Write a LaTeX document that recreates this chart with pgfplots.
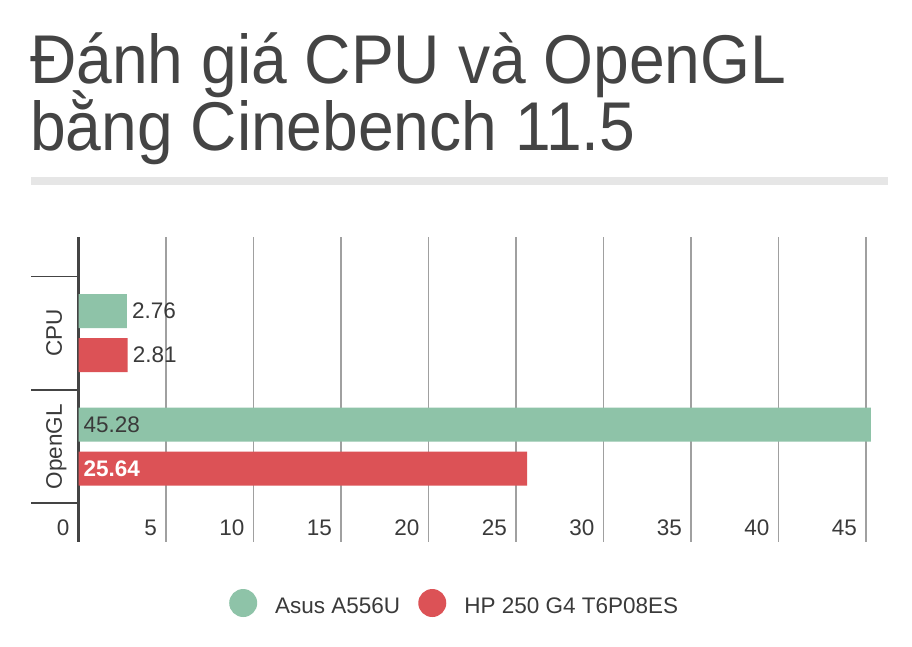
\documentclass[border=0pt]{standalone}
\usepackage{fontspec}
\setmainfont{Liberation Sans}
\newfontfamily\titlefont[FakeStretch=0.93]{Liberation Sans}
\usepackage{pgfplots}
\pgfplotsset{compat=1.18}
\definecolor{tgray}{HTML}{444444}
\definecolor{lgray}{HTML}{3A3A3A}
\definecolor{cgreen}{HTML}{8EC3A8}
\definecolor{cred}{HTML}{DC5256}
\definecolor{rulegray}{HTML}{E6E6E6}
\definecolor{gridgray}{HTML}{A0A0A0}
\newcommand{\lbl}{\fontsize{22.5}{23}\selectfont}
\begin{document}
\begin{tikzpicture}[x=1pt,y=1pt]
\useasboundingbox[fill=white] (0,0) rectangle (912,-646);
\node[anchor=base west, inner sep=0pt, text=tgray, font=\titlefont\fontsize{69}{69}\selectfont] at (30,-83) {Đánh giá CPU và OpenGL};
\node[anchor=base west, inner sep=0pt, text=tgray, font=\titlefont\fontsize{69}{69}\selectfont] at (30,-150) {bằng Cinebench 11.5};
\fill[rulegray] (31,-177) rectangle (888,-185);
\begin{axis}[
  at={(78.5pt,-541.5pt)}, anchor=south west,
  scale only axis, width=798pt, height=304.5pt,
  xmin=0, xmax=45.6, ymin=-0.8385, ymax=1.849,
  xbar, bar width=34pt,
  axis line style={draw=none},
  ytick=\empty,
  xtick={5,10,...,45},
  extra x ticks={0},
  extra x tick style={grid style={draw=tgray, line width=3.5pt}},
  xmajorgrids, grid style={draw=gridgray, line width=1.3pt},
  major tick length=0pt,
  tick style={draw=none},
  xticklabel style={anchor=base east, xshift=-9pt, yshift=6.5pt, text=lgray, font=\lbl, inner sep=0pt},
  /pgf/number format/assume math mode=true,
  clip=false,
  point meta=explicit symbolic,
  nodes near coords,
  every node near coord/.append style={anchor=west, inner sep=0pt, xshift=5pt, text=lgray, font=\lbl},
  legend columns=2,
  legend style={at={(0.1886,-0.202)}, anchor=west, draw=none, fill=none, inner sep=0pt, font=\lbl, text=lgray,
    nodes={inner sep=0pt},
    /tikz/every odd column/.style={column sep=18pt},
    /tikz/every even column/.style={column sep=18pt}},
]
\addplot[fill=cgreen, draw=none, bar shift=22pt,
  legend image code/.code={\fill[cgreen] (14pt,3pt) circle (14pt);}]
  coordinates {(2.76,1) [2.76] (45.28,0) []};
\addlegendentry{Asus A556U}
\addplot[fill=cred, draw=none, bar shift=-22pt,
  legend image code/.code={\fill[cred] (14pt,3pt) circle (14pt);}]
  coordinates {(2.81,1) [2.81] (25.64,0) []};
\addlegendentry{HP 250 G4 T6P08ES}
\node[anchor=west, inner sep=0pt, text=lgray, font=\lbl] at ([xshift=5pt,yshift=22pt]axis cs:0,0) {45.28};
\node[anchor=west, inner sep=0pt, text=white, font=\lbl\bfseries] at ([xshift=5pt,yshift=-22pt]axis cs:0,0) {25.64};
\draw[tgray, line width=1.4pt] ([xshift=-47pt]axis cs:0,-0.5) -- ([xshift=-2pt]axis cs:0,-0.5);
\draw[tgray, line width=1.4pt] ([xshift=-47pt]axis cs:0,0.5) -- ([xshift=-2pt]axis cs:0,0.5);
\draw[tgray, line width=1.4pt] ([xshift=-47pt]axis cs:0,1.5) -- ([xshift=-2pt]axis cs:0,1.5);
\node[rotate=90, anchor=base, inner sep=0pt, text=lgray, font=\lbl] at ([xshift=-16.5pt]axis cs:0,1) {CPU};
\node[rotate=90, anchor=base, inner sep=0pt, text=lgray, font=\lbl] at ([xshift=-16.5pt]axis cs:0,0) {OpenGL};
\end{axis}
\end{tikzpicture}
\end{document}
